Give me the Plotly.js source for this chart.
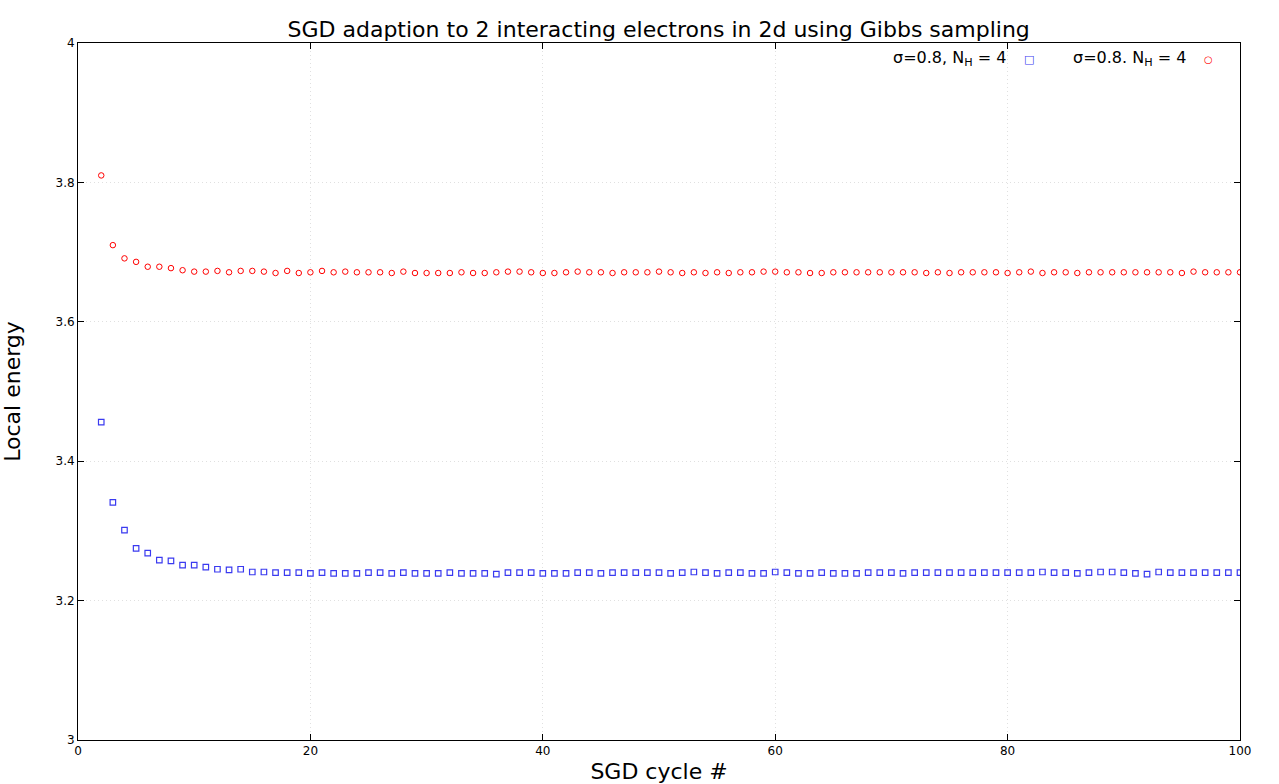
<!DOCTYPE html>
<html>
<head>
<meta charset="utf-8">
<script src="https://cdn.plot.ly/plotly-3.0.1.min.js"></script>
<style>html,body{margin:0;padding:0;background:#fff}#chart{width:1279px;height:784px}</style>
</head>
<body>
<div id="chart"></div>
<script>
// SGD cycles 2..100
const cycles = [];
for (let i = 2; i <= 100; i++) cycles.push(i);

// Gibbs sampling, blue squares
const energyBlue = [
  3.456, 3.341, 3.301, 3.275, 3.268, 3.258, 3.257, 3.251, 3.251, 3.248,
  3.245, 3.244, 3.245, 3.241, 3.241, 3.240, 3.240, 3.240, 3.239, 3.240,
  3.239, 3.239, 3.239, 3.240, 3.240, 3.239, 3.240, 3.239, 3.239, 3.239,
  3.240, 3.239, 3.239, 3.239, 3.238, 3.240, 3.240, 3.240, 3.239, 3.239,
  3.239, 3.240, 3.240, 3.239, 3.240, 3.240, 3.240, 3.240, 3.240, 3.239,
  3.240, 3.241, 3.240, 3.239, 3.240, 3.240, 3.239, 3.239, 3.241, 3.240,
  3.239, 3.239, 3.240, 3.239, 3.239, 3.239, 3.240, 3.240, 3.240, 3.239,
  3.240, 3.240, 3.240, 3.240, 3.240, 3.240, 3.240, 3.240, 3.240, 3.240,
  3.240, 3.241, 3.240, 3.240, 3.239, 3.240, 3.241, 3.241, 3.240, 3.239,
  3.238, 3.241, 3.240, 3.240, 3.240, 3.240, 3.240, 3.240, 3.240
];

// red circles
const energyRed = [
  3.810, 3.710, 3.691, 3.686, 3.679, 3.679, 3.677, 3.674, 3.672, 3.672,
  3.673, 3.671, 3.673, 3.673, 3.672, 3.670, 3.673, 3.670, 3.671, 3.673,
  3.671, 3.672, 3.671, 3.671, 3.671, 3.670, 3.672, 3.670, 3.670, 3.670,
  3.670, 3.671, 3.670, 3.670, 3.671, 3.672, 3.672, 3.671, 3.670, 3.670,
  3.671, 3.672, 3.671, 3.671, 3.670, 3.671, 3.671, 3.671, 3.672, 3.671,
  3.670, 3.671, 3.670, 3.671, 3.670, 3.671, 3.671, 3.672, 3.672, 3.671,
  3.671, 3.670, 3.670, 3.671, 3.671, 3.671, 3.671, 3.671, 3.671, 3.671,
  3.671, 3.670, 3.671, 3.670, 3.671, 3.671, 3.671, 3.671, 3.670, 3.671,
  3.672, 3.670, 3.671, 3.671, 3.670, 3.671, 3.671, 3.671, 3.671, 3.671,
  3.671, 3.671, 3.671, 3.670, 3.672, 3.671, 3.671, 3.671, 3.671
];

const font = 'DejaVu Sans, sans-serif';

const traces = [
  {
    x: cycles, y: energyBlue, type: 'scatter', mode: 'markers',
    marker: { symbol: 'square-open', size: 5.5, color: '#3a3af0', line: { width: 1.2 } },
    showlegend: false
  },
  {
    x: cycles, y: energyRed, type: 'scatter', mode: 'markers',
    marker: { symbol: 'circle-open', size: 5.5, color: '#ff0000', line: { width: 1 } },
    showlegend: false
  }
];

const axisCommon = {
  showline: true, mirror: 'ticks', linecolor: '#000', linewidth: 1,
  ticks: 'inside', ticklen: 6, tickcolor: '#000',
  showgrid: true, gridcolor: '#e0e0e0', griddash: '1px,3px', gridwidth: 1,
  zeroline: false, tickfont: { family: font, size: 12, color: '#000' }
};

const layout = {
  width: 1279, height: 784,
  margin: { l: 78, r: 39, t: 43, b: 44 },
  paper_bgcolor: '#fff', plot_bgcolor: '#fff',
  font: { family: font, color: '#000' },
  title: { text: 'SGD adaption to 2 interacting electrons in 2d using Gibbs sampling',
           font: { family: font, size: 22 }, x: 0.515, xanchor: 'center', y: 0.972 },
  xaxis: Object.assign({}, axisCommon, {
    range: [0, 100], dtick: 20,
    title: { text: 'SGD cycle #', font: { family: font, size: 22 }, standoff: 6 }
  }),
  yaxis: Object.assign({}, axisCommon, {
    range: [3, 4], dtick: 0.2,
    title: { text: 'Local energy', font: { family: font, size: 22 }, standoff: 28 }
  }),
  annotations: [
    { xref: 'paper', yref: 'paper', x: 0.800, y: 0.978, xanchor: 'right', yanchor: 'middle',
      text: 'σ=0.8, N<sub>H</sub> = 4', showarrow: false, font: { family: font, size: 16 } },
    { xref: 'paper', yref: 'paper', x: 0.955, y: 0.978, xanchor: 'right', yanchor: 'middle',
      text: 'σ=0.8. N<sub>H</sub> = 4', showarrow: false, font: { family: font, size: 16 } },
    { xref: 'paper', yref: 'paper', x: 0.818, y: 0.977, xanchor: 'center', yanchor: 'middle',
      text: '□', showarrow: false, font: { family: font, size: 11, color: '#3a3af0' } },
    { xref: 'paper', yref: 'paper', x: 0.973, y: 0.977, xanchor: 'center', yanchor: 'middle',
      text: '○', showarrow: false, font: { family: font, size: 10, color: '#ff0000' } }
  ]
};

Plotly.newPlot('chart', traces, layout, { displayModeBar: false, responsive: false });
</script>
</body>
</html>
